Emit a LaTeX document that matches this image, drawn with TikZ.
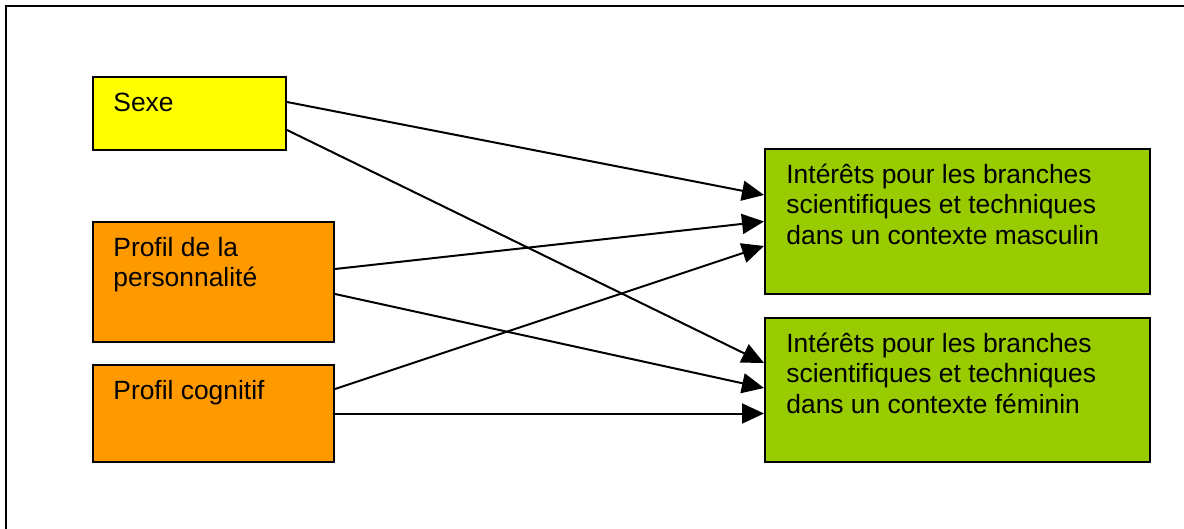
\documentclass[tikz,border=0pt]{standalone}
\usepackage{fontspec}
\setmainfont{Liberation Sans}
\usetikzlibrary{arrows.meta}

\definecolor{sexeyellow}{HTML}{FFFF00}
\definecolor{profilorange}{HTML}{FF9900}
\definecolor{interetgreen}{HTML}{99CC00}

\tikzset{
    box/.style={draw, line width=1pt, inner sep=0pt},
    boxtext/.style={anchor=north west, inner sep=0pt, align=left,
        font=\fontsize{13.2}{15.25}\selectfont, label distance=0pt},
    link/.style={line width=1pt, -{Triangle[length=11pt,width=10pt]}}
}

\begin{document}
\begin{tikzpicture}[x=0.5pt, y=-0.5pt]

    % Canvas and frame
    \useasboundingbox (0,0) rectangle (1184,529);
    \draw[line width=1pt] (6,529) -- (6,6) -- (1184,6);

    % Boxes on the left
    \node[box,
        fill=sexeyellow,
        minimum width=96.5pt,
        minimum height=36.5pt,
        label={[boxtext, xshift=10.5pt, yshift=-6.8pt]north west:{\strut Sexe}}] (sexe) at (189.5,113.5){};

    \node[box,
        fill=profilorange,
        minimum width=120.5pt,
        minimum height=60pt,
        label={[boxtext, xshift=10.5pt, yshift=-6.8pt]north west:{\strut Profil de la\\personnalité}}] (perso) at (213.5,282){};

    \node[box,
        fill=profilorange,
        minimum width=120.5pt,
        minimum height=48.5pt,
        label={[boxtext, xshift=10.5pt, yshift=-6.8pt]north west:{\strut Profil cognitif}}] (cogn) at (213.5,413.5){};

    % Boxes on the right
    \node[box,
        fill=interetgreen,
        minimum width=192.5pt,
        minimum height=72.5pt,
        label={[boxtext, xshift=11pt, yshift=-6.8pt]north west:{\strut Intérêts pour les branches\\scientifiques et techniques\\dans un contexte masculin}}] (masc) at (957.5,221.5){};

    \node[box,
        fill=interetgreen,
        minimum width=192.5pt,
        minimum height=72pt,
        label={[boxtext, xshift=11pt, yshift=-6.8pt]north west:{\strut Intérêts pour les branches\\scientifiques et techniques\\dans un contexte féminin}}] (fem) at (957.5,390){};

    % Links
    \draw[link] ([shift={(0,-11.5)}]sexe.east) -- ([shift={(0,-26.5)}]masc.west);
    \draw[link] ([shift={(0,16.5)}]sexe.east) -- ([shift={(0,-27)}]fem.west);
    \draw[link] ([shift={(0,-13)}]perso.east) -- (masc.west);
    \draw[link] ([shift={(0,12)}]perso.east) -- ([shift={(0,-2)}]fem.west);
    \draw[link] ([shift={(0,-24.5)}]cogn.east) -- ([shift={(0,24.5)}]masc.west);
    \draw[link] (cogn.east) -- ([shift={(0,23.5)}]fem.west);

\end{tikzpicture}
\end{document}
